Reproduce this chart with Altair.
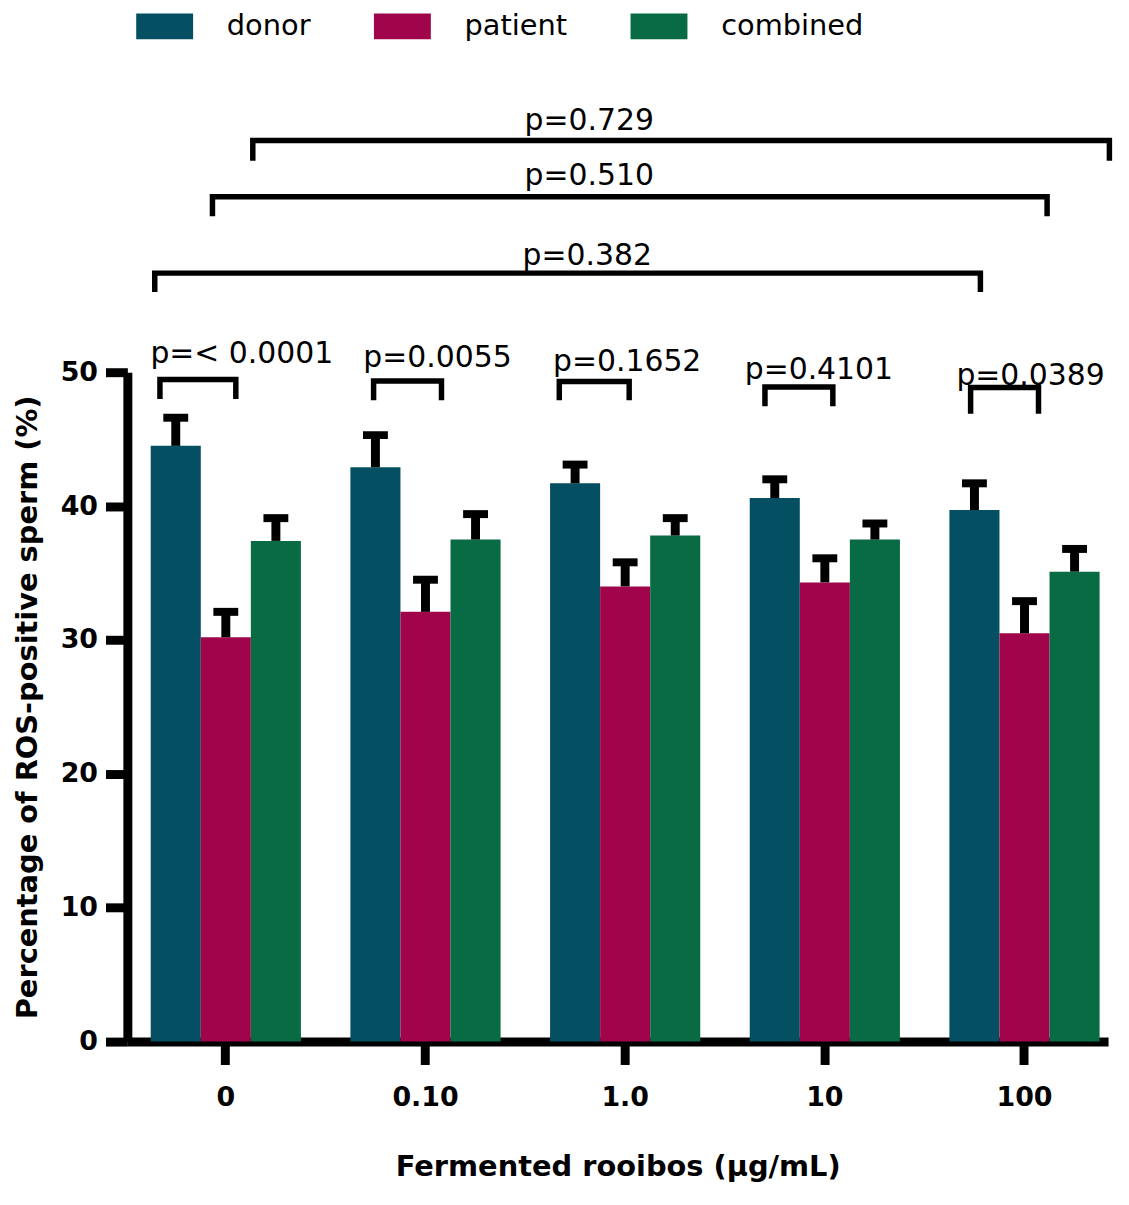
import altair as alt
import pandas as pd

# ---------------- data ----------------
concentrations = ["0", "0.10", "1.0", "10", "100"]
groups = ["donor", "patient", "combined"]
colors = ["#054F62", "#A0054B", "#086B44"]

donor_mean = [44.5, 42.9, 41.7, 40.6, 39.7]
donor_sem = [2.1, 2.4, 1.4, 1.4, 2.0]
patient_mean = [30.2, 32.1, 34.0, 34.3, 30.5]
patient_sem = [1.9, 2.4, 1.8, 1.8, 2.4]
combined_mean = [37.4, 37.5, 37.8, 37.5, 35.1]
combined_sem = [1.7, 1.9, 1.3, 1.2, 1.7]

# donor vs patient comparison inside each concentration
# (x in group-index units: group i is centred on i + 0.5; y in %)
pair_p = ["p=< 0.0001", "p=0.0055", "p=0.1652", "p=0.4101", "p=0.0389"]
pair_x1 = [0.17, 1.24, 2.17, 3.20, 4.23]
pair_x2 = [0.55, 1.58, 2.52, 3.54, 4.57]
pair_top = [49.45, 49.35, 49.3, 48.9, 48.85]
pair_leg = [48.0, 47.9, 47.9, 47.45, 46.9]
pair_label_x = [0.58, 1.56, 2.51, 3.47, 4.53]
pair_label_y = [50.7, 50.4, 50.1, 49.5, 49.05]

# comparisons across concentrations
span_p = ["p=0.382", "p=0.510", "p=0.729"]
span_x1 = [0.144, 0.433, 0.635]
span_x2 = [4.279, 4.613, 4.925]
span_top = [57.4, 63.1, 67.3]
span_leg = [56.0, 61.65, 65.8]
span_label_x = [2.31, 2.32, 2.32]
span_label_y = [58.0, 64.0, 68.1]

# ---------------- tables ----------------
means = {"donor": donor_mean, "patient": patient_mean, "combined": combined_mean}
sems = {"donor": donor_sem, "patient": patient_sem, "combined": combined_sem}
rows = []
for g in groups:
    for i, c in enumerate(concentrations):
        rows.append({"conc": c, "group": g, "mean": means[g][i],
                     "hi": round(means[g][i] + sems[g][i], 2)})
bars_df = pd.DataFrame(rows)

br_rows = []
lab_rows = []
def add_bracket(bid, x1, x2, top, leg):
    pts = [(x1, leg), (x1, top), (x2, top), (x2, leg)]
    for k, (xx, yy) in enumerate(pts):
        br_rows.append({"id": bid, "k": k, "bx": xx, "by": yy})

for i in range(len(pair_p)):
    add_bracket("pair%d" % i, pair_x1[i], pair_x2[i], pair_top[i], pair_leg[i])
    lab_rows.append({"lx": pair_label_x[i], "ly": pair_label_y[i], "txt": pair_p[i]})
for i in range(len(span_p)):
    add_bracket("span%d" % i, span_x1[i], span_x2[i], span_top[i], span_leg[i])
    lab_rows.append({"lx": span_label_x[i], "ly": span_label_y[i], "txt": span_p[i]})
br_df = pd.DataFrame(br_rows)
lab_df = pd.DataFrame(lab_rows)

# ---------------- chart ----------------
W, H = 986, 673
FONT = "DejaVu Sans"

# band layout: step ~200.75 px, bars 151 px per group, groups shifted slightly right
xband = alt.Scale(domain=concentrations, paddingInner=0.2478, paddingOuter=0.0797, align=0.734)
xoff = alt.Scale(domain=groups)
yscale = alt.Scale(domain=[0, 50], nice=False, zero=True)
# quantitative scale for annotations, aligned so that i + 0.5 sits on group i's centre
xq = alt.Scale(domain=[0.0068, 4.9184], nice=False, zero=False)

x_axis = alt.Axis(title="Fermented rooibos (µg/mL)", labelAngle=0, tickSize=23, tickWidth=9,
                  domainWidth=9, labelPadding=20, labelFont=FONT, labelFontSize=27,
                  labelFontWeight="bold", titleFont=FONT, titleFontSize=29,
                  titleFontWeight="bold", titlePadding=43, domainColor="black",
                  tickColor="black", labelColor="black", titleColor="black")
y_axis = alt.Axis(title="Percentage of ROS-positive sperm (%)", values=[0, 10, 20, 30, 40, 50],
                  grid=False, tickSize=22, tickWidth=9, domainWidth=9, labelPadding=8,
                  labelFont=FONT, labelFontSize=27, labelFontWeight="bold",
                  titleFont=FONT, titleFontSize=29, titleFontWeight="bold",
                  titlePadding=17.5, domainColor="black", tickColor="black",
                  labelColor="black", titleColor="black")

legend = alt.Legend(orient="none", legendX=23, legendY=-362.5, direction="horizontal",
                    title=None, symbolType="M-2.2,-1H2.2V1H-2.2Z", symbolSize=676,
                    symbolStrokeWidth=0, symbolOpacity=1, labelFont=FONT, labelFontSize=29,
                    labelColor="black", labelOffset=48, columnPadding=62, padding=0)

base = alt.Chart(bars_df)
X = alt.X("conc:N", scale=xband, sort=concentrations, axis=x_axis)
XO = alt.XOffset("group:N", scale=xoff, sort=groups)

bars = base.mark_bar().encode(
    x=X, xOffset=XO,
    y=alt.Y("mean:Q", scale=yscale, axis=y_axis),
    color=alt.Color("group:N", scale=alt.Scale(domain=groups, range=colors),
                    sort=groups, legend=legend),
)
stems = base.mark_rule(color="black", strokeWidth=9).encode(
    x=X, xOffset=XO, y=alt.Y("mean:Q", scale=yscale), y2="hi:Q")
caps = base.mark_tick(color="black", size=25, thickness=8, orient="horizontal", opacity=1).encode(
    x=X, xOffset=XO, y=alt.Y("hi:Q", scale=yscale))

main = alt.layer(bars, stems, caps)

brackets = alt.Chart(br_df).mark_line(color="black", strokeWidth=5.5, strokeCap="butt",
                                      strokeJoin="miter").encode(
    x=alt.X("bx:Q", scale=xq, axis=None),
    y=alt.Y("by:Q", scale=yscale),
    detail="id:N", order="k:Q")
labels = alt.Chart(lab_df).mark_text(font=FONT, fontSize=30, color="black", align="center",
                                     baseline="alphabetic").encode(
    x=alt.X("lx:Q", scale=xq, axis=None),
    y=alt.Y("ly:Q", scale=yscale),
    text="txt:N")
ann = alt.layer(brackets, labels)

chart = alt.layer(main, ann).resolve_scale(x="independent").properties(
    width=W, height=H,
    padding={"left": 5, "top": 0, "right": 0, "bottom": 0},
).configure_view(stroke=None)

chart.save("out.html", embed_options={"renderer": "svg", "actions": False})
